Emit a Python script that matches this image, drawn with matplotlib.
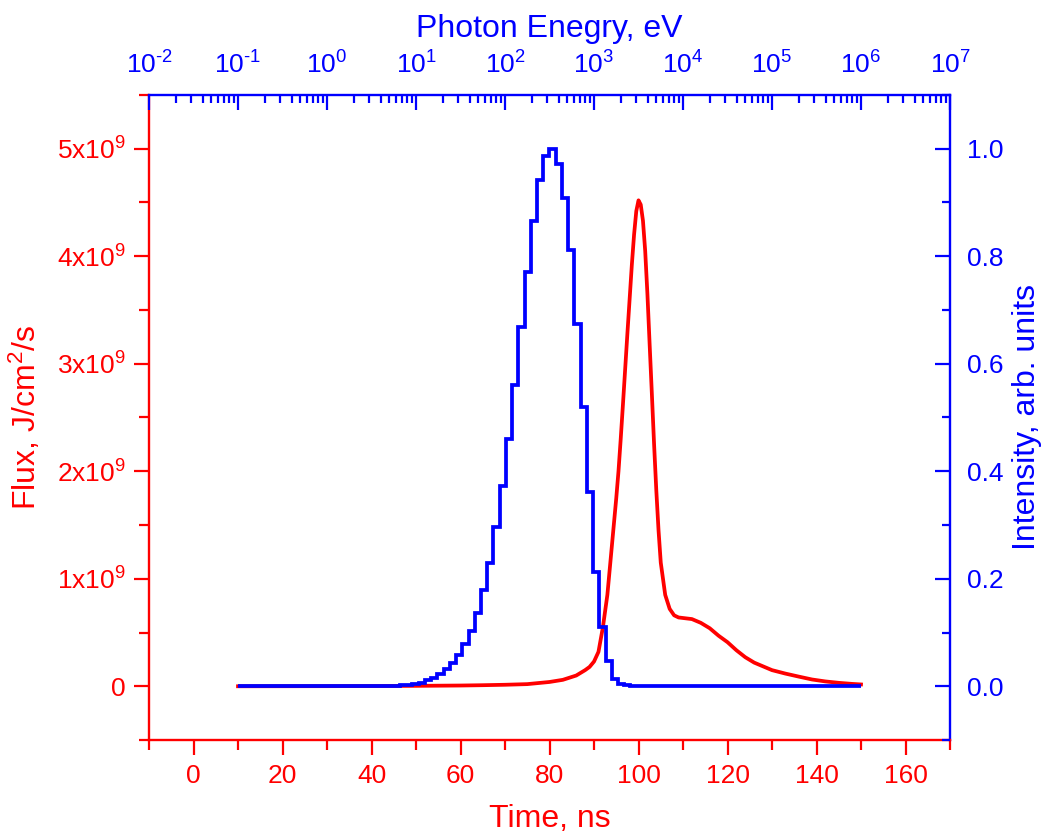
import matplotlib
matplotlib.use("Agg")
from matplotlib import pyplot as plt
from matplotlib.ticker import MultipleLocator, FuncFormatter, LogLocator, NullFormatter
import numpy as np

plt.rcParams['font.family'] = ['Liberation Sans', 'DejaVu Sans']
plt.rcParams['mathtext.fontset'] = 'custom'
plt.rcParams['mathtext.rm'] = 'Liberation Sans'
plt.rcParams['mathtext.it'] = 'Liberation Sans:italic'
plt.rcParams['mathtext.bf'] = 'Liberation Sans:bold'

# flux vs time (red curve)
time_ns = [10, 20, 30, 40, 50, 60, 65, 70, 75, 80, 83, 86, 88, 89, 90, 91, 92, 93, 94,
           95, 95.5, 96, 96.5, 97, 97.5, 98, 98.5, 99, 99.5, 100, 100.5, 101, 101.5, 102,
           102.5, 103, 103.5, 104, 104.5, 105, 106, 107, 108, 109, 110, 112, 114, 116,
           118, 120, 122, 124, 126, 128, 130, 133, 136, 139, 142, 145, 148, 150]
flux = [0.0, 0.0005, 0.001, 0.002, 0.004, 0.007, 0.010, 0.014, 0.02, 0.04, 0.06, 0.10,
        0.15, 0.18, 0.23, 0.32, 0.55, 0.85, 1.3,
        1.75, 2.0, 2.3, 2.62, 2.95, 3.28, 3.6, 3.92, 4.2, 4.42, 4.52, 4.48, 4.33, 4.05, 3.65,
        3.18, 2.72, 2.25, 1.82, 1.45, 1.15, 0.85, 0.72, 0.66, 0.64, 0.635, 0.625, 0.59, 0.54,
        0.47, 0.41, 0.335, 0.27, 0.22, 0.185, 0.15, 0.118, 0.09, 0.063, 0.045, 0.032, 0.022, 0.017]
flux = np.array(flux) * 1e9

# spectrum vs photon energy (blue histogram), bin edges in eV
energy_edges = [0.1, 3.47, 4.07, 4.79, 5.62, 6.61, 7.76, 9.12, 10.7, 12.6, 14.8, 17.4, 20.4,
                24.0, 28.2, 33.1, 38.9, 45.7, 53.7, 63.1, 74.1, 87.1, 102, 120, 141, 166,
                195, 229, 269, 316, 372, 437, 513, 603, 708, 832, 977, 1148, 1349, 1585,
                1862, 2188, 2570, 3020, 1e6]
intensity = [0.0, 0.0002, 0.0004, 0.0007, 0.001, 0.0015, 0.0025, 0.004, 0.007, 0.011,
             0.016, 0.023, 0.032, 0.043, 0.058, 0.078, 0.103, 0.137, 0.179, 0.230, 0.296,
             0.373, 0.460, 0.561, 0.668, 0.770, 0.866, 0.941, 0.987, 1.000, 0.972, 0.909,
             0.811, 0.674, 0.520, 0.361, 0.213, 0.110, 0.047, 0.014, 0.005, 0.002, 0.0005, 0.0]

RED = '#ff0000'
BLUE = '#0000ff'

fig = plt.figure(figsize=(10.45, 8.36), dpi=100)
pos = [0.1426, 0.1148, 0.7665, 0.7716]
ax = fig.add_axes(pos)
axb = fig.add_axes(pos, frameon=False)

ax.plot(time_ns, flux, color=RED, lw=2.7, zorder=3, solid_joinstyle='round')
axb.stairs(intensity, energy_edges, color=BLUE, lw=2.7, baseline=None)

# bottom / left axes (red)
ax.set_xlim(-10, 170)
ax.set_ylim(-0.5e9, 5.5e9)
ax.xaxis.set_major_locator(MultipleLocator(20))
ax.xaxis.set_minor_locator(MultipleLocator(10))
ax.yaxis.set_major_locator(MultipleLocator(1e9))
ax.yaxis.set_minor_locator(MultipleLocator(0.5e9))

def flux_fmt(v, p):
    n = int(round(v / 1e9))
    if n == 0:
        return '0'
    return r'$\mathregular{%dx10^{9}}$' % n

def energy_fmt(v, p):
    e = int(round(np.log10(v)))
    return r'$\mathregular{10^{\text{%d}}}$' % e

ax.yaxis.set_major_formatter(FuncFormatter(flux_fmt))
ax.tick_params(which='both', direction='out', colors=RED, width=1.6,
               top=False, right=False, labelsize=19)
ax.tick_params(which='major', length=11, pad=6)
ax.tick_params(which='minor', length=7)
for s in ['left', 'bottom']:
    ax.spines[s].set_color(RED)
    ax.spines[s].set_linewidth(1.7)
for s in ['top', 'right']:
    ax.spines[s].set_color(BLUE)
    ax.spines[s].set_linewidth(1.7)
ax.set_xlabel('Time, ns', color=RED, fontsize=23, labelpad=12)
ax.set_ylabel(r'Flux, J/cm$\mathregular{^2}$/s', color=RED, fontsize=23, labelpad=10)

# top / right axes (blue)
axb.set_xscale('log')
axb.set_xlim(1e-2, 1e7)
axb.set_ylim(-0.1, 1.1)
axb.xaxis.set_ticks_position('top')
axb.xaxis.set_label_position('top')
axb.yaxis.set_ticks_position('right')
axb.yaxis.set_label_position('right')
axb.xaxis.set_major_locator(LogLocator(base=10, numticks=20))
axb.xaxis.set_minor_locator(LogLocator(base=10, subs=np.arange(2, 10), numticks=20))
axb.xaxis.set_major_formatter(FuncFormatter(energy_fmt))
axb.xaxis.set_minor_formatter(NullFormatter())
axb.yaxis.set_major_locator(MultipleLocator(0.2))
axb.yaxis.set_minor_locator(MultipleLocator(0.1))
axb.yaxis.set_major_formatter(FuncFormatter(lambda v, p: '%.1f' % v))
axb.tick_params(which='both', direction='in', colors=BLUE, width=1.6,
                bottom=False, left=False, labelsize=19)
axb.tick_params(which='major', length=11, pad=12)
axb.tick_params(which='minor', length=6)
axb.set_xlabel('Photon Enegry, eV', color=BLUE, fontsize=23, labelpad=10)
axb.set_ylabel('Intensity, arb. units', color=BLUE, fontsize=23, labelpad=6)

fig.savefig('out.png', dpi=100)
